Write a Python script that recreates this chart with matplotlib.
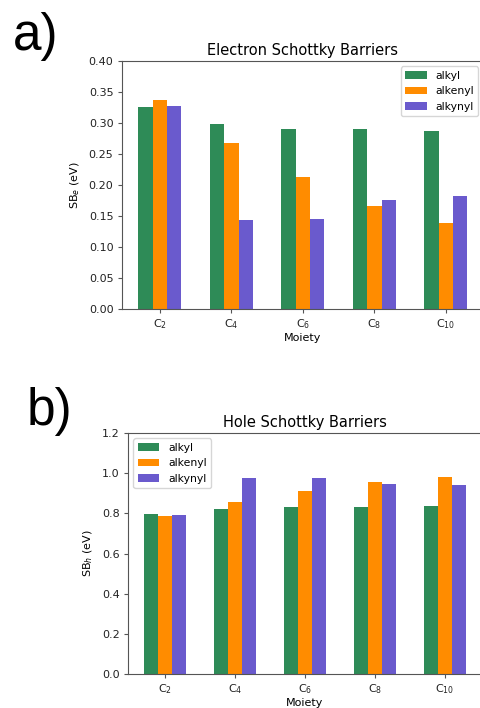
import numpy as np
import matplotlib
matplotlib.use('Agg')
import matplotlib.pyplot as plt

# ===== data =====
moieties = ['C$_2$', 'C$_4$', 'C$_6$', 'C$_8$', 'C$_{10}$']
series = ['alkyl', 'alkenyl', 'alkynyl']

sb_e_alkyl = [0.325, 0.299, 0.290, 0.290, 0.287]
sb_e_alkenyl = [0.337, 0.268, 0.213, 0.166, 0.139]
sb_e_alkynyl = [0.328, 0.144, 0.145, 0.176, 0.183]

sb_h_alkyl = [0.797, 0.823, 0.832, 0.832, 0.837]
sb_h_alkenyl = [0.787, 0.855, 0.910, 0.958, 0.983]
sb_h_alkynyl = [0.793, 0.978, 0.978, 0.948, 0.940]

COLORS = ['#2E8B57', '#FF8C00', '#6A5ACD']

plt.rcParams['font.family'] = 'DejaVu Sans'
plt.rcParams['font.size'] = 8
plt.rcParams['axes.edgecolor'] = '#555555'
plt.rcParams['xtick.color'] = '#555555'
plt.rcParams['ytick.color'] = '#555555'
plt.rcParams['xtick.labelcolor'] = '#222222'
plt.rcParams['ytick.labelcolor'] = '#222222'
plt.rcParams['xtick.major.size'] = 2.6
plt.rcParams['ytick.major.size'] = 2.6
plt.rcParams['axes.linewidth'] = 0.8

fig = plt.figure(figsize=(4.8, 7.08), dpi=100)
ax1 = fig.add_axes([0.254, 0.5636, 0.754, 0.3503])
ax2 = fig.add_axes([0.2667, 0.048, 0.7375, 0.3404])

x = np.arange(len(moieties))
width = 0.2


def draw_panel(ax, data, title, ylabel, legend_loc):
    for k, (vals, name) in enumerate(zip(data, series)):
        ax.bar(x + (k - 1) * width, vals, width, color=COLORS[k], label=name)
    ax.set_xticks(x)
    ax.set_xticklabels(moieties)
    ax.set_xlabel('Moiety', fontsize=8, labelpad=1)
    ax.set_ylabel(ylabel, fontsize=8, labelpad=5)
    ax.set_title(title, fontsize=10.5, pad=4)
    ax.legend(loc=legend_loc, fontsize=7.8)


draw_panel(ax1, [sb_e_alkyl, sb_e_alkenyl, sb_e_alkynyl],
           'Electron Schottky Barriers', 'SB$_e$ (eV)', 'upper right')
ax1.set_ylim(0, 0.40)
ax1.set_yticks(np.arange(0, 0.401, 0.05))
ax1.set_yticklabels([f'{v:.2f}' for v in np.arange(0, 0.401, 0.05)])

draw_panel(ax2, [sb_h_alkyl, sb_h_alkenyl, sb_h_alkynyl],
           'Hole Schottky Barriers', 'SB$_h$ (eV)', 'upper left')
ax2.set_ylim(0, 1.2)
ax2.set_yticks(np.arange(0, 1.21, 0.2))
ax2.set_yticklabels([f'{v:.1f}' for v in np.arange(0, 1.21, 0.2)])

# panel labels
fig.text(0.027, 1 - 50 / 708, 'a)', fontsize=37, family='Liberation Sans',
         va='baseline', ha='left')
fig.text(0.056, 1 - 425 / 708, 'b)', fontsize=37, family='Liberation Sans',
         va='baseline', ha='left')

fig.savefig('out.png', dpi=100)
